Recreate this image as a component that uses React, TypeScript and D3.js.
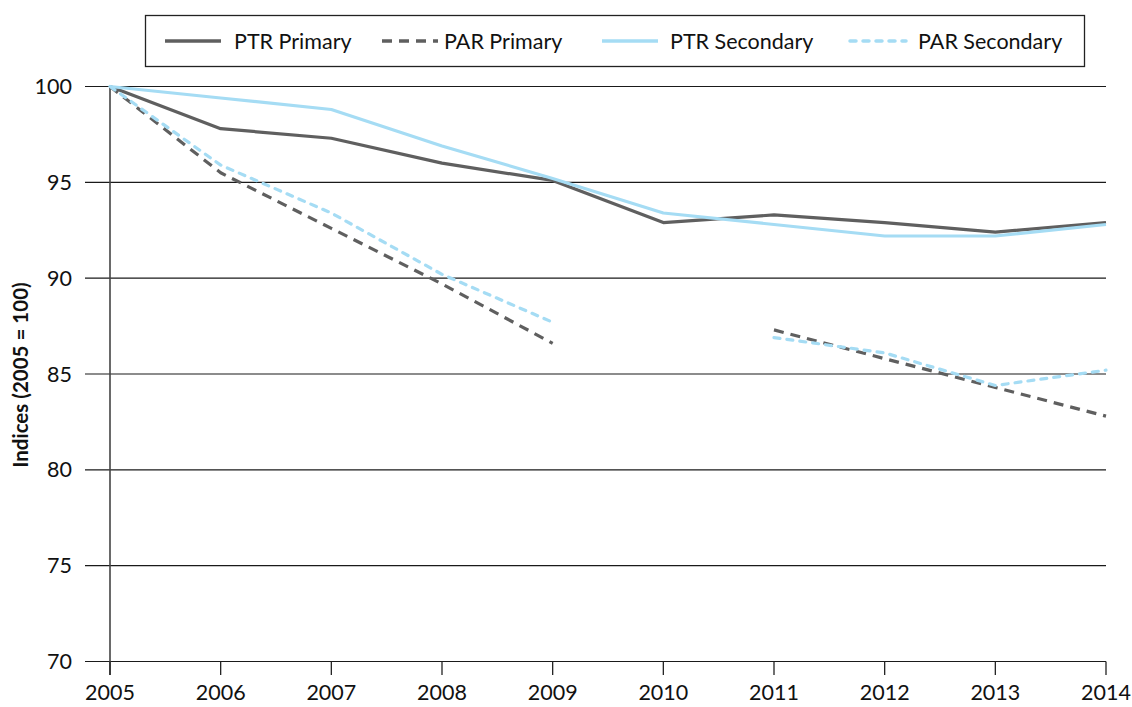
import React from "react";
import * as d3 from "d3";

const years = [2005, 2006, 2007, 2008, 2009, 2010, 2011, 2012, 2013, 2014];
const ptrPrimary: (number | null)[] = [100, 97.8, 97.3, 96.0, 95.1, 92.9, 93.3, 92.9, 92.4, 92.9];
const parPrimary: (number | null)[] = [100, 95.5, 92.6, 89.7, 86.6, null, 87.3, 85.8, 84.3, 82.8];
const ptrSecondary: (number | null)[] = [100, 99.4, 98.8, 96.9, 95.2, 93.4, 92.8, 92.2, 92.2, 92.8];
const parSecondary: (number | null)[] = [100, 95.9, 93.4, 90.2, 87.7, null, 86.9, 86.1, 84.4, 85.2];
const yTicks = [70, 75, 80, 85, 90, 95, 100];

const DARK = "#5f5f5f";
const BLUE = "#a5dcf4";
const FONT = "Lato, 'Open Sans', sans-serif";

const series = [
  { name: "PTR Primary", values: ptrPrimary, color: DARK, dash: "", cap: "butt" },
  { name: "PAR Primary", values: parPrimary, color: DARK, dash: "10,7", cap: "butt" },
  { name: "PTR Secondary", values: ptrSecondary, color: BLUE, dash: "", cap: "butt" },
  { name: "PAR Secondary", values: parSecondary, color: BLUE, dash: "6,7", cap: "round" },
];

export default function App() {
  const W = 1132, H = 707;
  const x = d3.scaleLinear().domain([2005, 2014]).range([110, 1106]);
  const y = d3.scaleLinear().domain([70, 100]).range([661.5, 86.5]);
  const line = d3
    .line<number | null>()
    .defined((d) => d !== null)
    .x((_, i) => x(years[i]))
    .y((d) => y(d as number));

  const legendItems = [
    { lx: 165, tx: 234 },
    { lx: 382, tx: 444 },
    { lx: 602, tx: 670 },
    { lx: 850, tx: 918 },
  ];

  return (
    <svg width={W} height={H} style={{ position: "absolute", left: 0, top: 0 }} fontFamily={FONT}>
      {yTicks.map((t) => (
        <g key={t}>
          <line x1={85} x2={1106} y1={y(t)} y2={y(t)} stroke="#1a1a1a" strokeWidth={1.2} />
          <text x={72} y={y(t)} dy="0.35em" textAnchor="end" fontSize={21.5} fill="#111">
            {t}
          </text>
        </g>
      ))}
      <line x1={110} x2={110} y1={y(100)} y2={675} stroke="#444" strokeWidth={1.6} />
      {years.map((yr) => (
        <g key={yr}>
          <line x1={x(yr)} x2={x(yr)} y1={y(70)} y2={675} stroke="#222" strokeWidth={1.3} />
          <text x={x(yr)} y={700} textAnchor="middle" fontSize={21.5} fill="#111">
            {yr}
          </text>
        </g>
      ))}
      <text
        transform={`translate(28,375) rotate(-90)`}
        textAnchor="middle"
        fontSize={20.5}
        fontWeight="bold"
        fill="#111"
      >
        Indices (2005 = 100)
      </text>
      {series.map((s) => (
        <path
          key={s.name}
          d={line(s.values) || ""}
          fill="none"
          stroke={s.color}
          strokeWidth={3.2}
          strokeDasharray={s.dash || undefined}
          strokeLinecap={s.cap as any}
          strokeLinejoin="round"
        />
      ))}
      <rect x={145.5} y={15.5} width={939} height={51} fill="#fff" stroke="#222" strokeWidth={1.3} />
      {series.map((s, i) => (
        <g key={s.name}>
          <line
            x1={legendItems[i].lx}
            x2={legendItems[i].lx + 56}
            y1={41}
            y2={41}
            stroke={s.color}
            strokeWidth={3.5}
            strokeDasharray={s.dash || undefined}
            strokeLinecap={s.cap as any}
          />
          <text x={legendItems[i].tx} y={41} dy="0.35em" fontSize={21.5} fill="#111">
            {s.name}
          </text>
        </g>
      ))}
    </svg>
  );
}
